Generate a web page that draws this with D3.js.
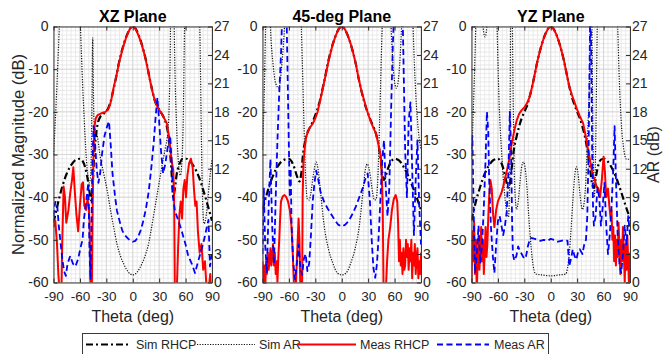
<!DOCTYPE html>
<html>
<head>
<meta charset="utf-8">
<script src="https://cdn.jsdelivr.net/npm/d3@7"></script>
<style>
  body { margin: 0; background: #fff; }
  svg { display: block; font-family: Arial, "Liberation Sans", sans-serif; }
</style>
</head>
<body>
<svg id="chart" width="664" height="354"></svg>
<script>
// panel titles and axis ticks
const planeNames = ['XZ Plane', '45-deg Plane', 'YZ Plane'];
const thetaTicks = [-90, -60, -30, 0, 30, 60, 90];
const dbTicks = [0, -10, -20, -30, -40, -50, -60];
const arTicks = [0, 3, 6, 9, 12, 15, 18, 21, 24, 27];
const legendLabels = ['Sim RHCP', 'Sim AR', 'Meas RHCP', 'Meas AR'];

// [theta (deg), value] - RHCP in dB (left axis), AR in dB (right axis)
const xzSimRhcp = [[-90,-46],[-85,-41.5],[-80,-37.5],[-75,-34.5],[-70,-32.5],[-65,-31.3],[-60,-31],[-57,-31.5],[-54,-33],[-51,-36],[-48.5,-39.5],[-47,-40.8],[-45.5,-37],[-44,-31],[-42,-26],[-40,-23],[-37,-21.2],[-34,-20.6],[-31,-20],[-28,-19.2],[-25,-17.5],[-22,-14.8],[-19,-12],[-16,-8.8],[-13,-6.2],[-10,-4],[-7,-2.2],[-4,-0.8],[-2,-0.2],[0,0],[2,-0.2],[4,-0.8],[7,-2.2],[10,-4],[13,-6.2],[16,-8.8],[19,-12],[22,-14.8],[25,-17.3],[28,-18.8],[31,-19.8],[34,-20.8],[37,-22.2],[40,-25],[42,-28.5],[44,-34],[46,-40],[47.5,-38.5],[50,-34.5],[53,-32.3],[57,-31],[61,-31],[65,-31.6],[70,-33],[75,-35.2],[80,-38.3],[85,-41.8],[90,-45.5]];
const xzSimAr = [[-90,13.5],[-88,17],[-86,21],[-84,25.5],[-82,30],[-80,35],[-75,40],[-68,40],[-63,36],[-61,31],[-59,26],[-57,21],[-55,17],[-53,13.5],[-51,11.3],[-49.5,10.5],[-48,11],[-47,14],[-46.2,20],[-45.5,25.8],[-44.8,21],[-44,17],[-42,16],[-40,15.3],[-37,13.3],[-33,11.5],[-29,9.7],[-25,7.5],[-21,5.5],[-18,4.1],[-14,2.8],[-10,1.9],[-5,1.1],[0,0.8],[5,1.1],[10,1.9],[14,2.8],[18,4.1],[21,5.6],[25,7.8],[29,10],[33,12.2],[37,14.2],[40,16],[41.5,19],[42.5,24],[43.5,32],[45,38],[46.5,30],[48,22],[50,16],[52,12.5],[54,11.3],[56,13],[57.5,18],[58.5,25],[60,33],[63,40],[72,40],[75,33],[76.5,25],[78,15],[79.5,8],[81,6.2],[83,6.8],[85,8.5],[87,10.5],[90,13]];
const xzMeasRhcp = [[-90,-47],[-88,-45.5],[-86,-51],[-84.5,-58],[-83,-62],[-81,-62],[-80,-50],[-78.5,-37.5],[-77,-40],[-75.5,-46],[-73,-43],[-71,-39],[-69,-36],[-67.5,-33],[-66,-38],[-64,-44],[-62,-48],[-60,-42],[-58,-37],[-56.5,-36.5],[-55,-42],[-53,-43],[-51.5,-40.5],[-50,-42],[-49,-46],[-48,-62],[-46.5,-62],[-45.5,-42],[-44.5,-29],[-43.5,-23.5],[-42,-21.5],[-40,-20.8],[-37,-20.5],[-34,-20.2],[-31,-20],[-28,-19.5],[-26,-18.5],[-24,-16.8],[-22,-14.6],[-20,-12.8],[-18,-11],[-15,-8],[-12,-5.6],[-10,-4.2],[-7,-2.3],[-4,-0.9],[-2,-0.2],[0,0],[2,-0.2],[4,-0.9],[7,-2.3],[10,-4.1],[13,-6.3],[16,-9],[19,-12],[22,-15],[25,-17.3],[27.5,-18.6],[30,-19.5],[33,-20.5],[36,-21.6],[38.7,-22.7],[41,-25.5],[43,-29.5],[44.5,-32],[46,-33.5],[47,-40],[47.8,-62],[50,-62],[51.5,-52],[53,-44],[54.5,-41],[56,-45],[57.5,-38],[59,-36],[60.5,-40],[62,-35],[64,-32],[66,-31],[68,-33],[69.5,-38],[71,-42],[72.5,-41],[74,-48],[76,-53],[78,-51],[80,-57],[82,-55],[84,-62],[86,-62],[88,-58],[89,-62],[90,-62]];
const xzMeasAr = [[-90,7],[-88,8.5],[-86,8.4],[-84,6],[-82,4.2],[-80,2.5],[-78,1.2],[-76,0.7],[-74,2],[-71,2.8],[-68,2],[-65,1.7],[-62,2.5],[-59,3.8],[-57,4.5],[-55.5,6.6],[-53,8.5],[-50.5,10.5],[-49,3],[-48,0.3],[-47,5],[-46,12],[-44.5,16.5],[-43,15],[-41,12],[-39,10.5],[-37,11.5],[-35,13.5],[-32,15.5],[-29,16.5],[-27,17],[-25,14.5],[-23,11.5],[-20,9],[-18,7.6],[-15,6.5],[-12,5.5],[-9,5],[-5,4.6],[-2,4.4],[0,4.3],[3,4.4],[6,4.8],[9,5.5],[12,6.5],[15,7.8],[18,9.5],[21,12],[24,15],[26,17.5],[28,19.5],[30,17],[32,14],[34.5,11.5],[37,12.5],[40,14.5],[42.5,15.5],[44,13],[46,8.8],[48,7.5],[50,7],[53,6.2],[56,5.3],[60,4],[63,2.8],[67,2],[70.7,1],[73,1.8],[76,2.8],[79,3.8],[82,4.9],[84,5.8],[86,6.6],[87.7,1.7],[90,3]];

const d45SimRhcp = [[-90,-43],[-85,-39.2],[-80,-36],[-75,-33.6],[-70,-32],[-65,-31.2],[-60,-31],[-57,-31.6],[-54,-33],[-51,-35],[-48,-36.3],[-46,-34.5],[-44,-30],[-42,-27.3],[-40,-25.5],[-37,-24],[-34,-22.8],[-31,-21.3],[-28,-19.6],[-25,-17.5],[-22,-14.8],[-19,-12],[-16,-8.8],[-13,-6.2],[-10,-4],[-7,-2.2],[-4,-0.8],[-2,-0.2],[0,0],[2,-0.2],[4,-0.8],[7,-2.2],[10,-4],[13,-6.2],[16,-8.8],[19,-12],[22,-14.8],[25,-17.3],[28,-19.3],[31,-21],[34,-22.6],[37,-24],[40,-26],[42,-28],[44,-31],[46,-34.3],[48,-36],[50,-35],[53,-33],[57,-31.4],[60,-31],[65,-31.4],[70,-32.8],[75,-34.8],[80,-37.3],[85,-40],[90,-43]];
const d45SimAr = [[-90,14],[-88,20],[-86.5,27],[-85,33],[-83,33],[-81,27],[-78,23],[-75,21],[-71.5,20.5],[-68,23],[-65,27],[-62,33],[-58,38],[-50,38],[-47,30],[-45,24],[-43,17],[-41,11],[-39,8.8],[-37,8.7],[-35,9.5],[-32,11.5],[-29,12.7],[-27,12],[-24,9.5],[-20,6],[-15,3.5],[-10,2],[-5,1],[0,0.8],[5,1],[10,2],[15,3.5],[20,6],[24,9.5],[27,12],[29,12.5],[32,11.5],[35,9.5],[37,8.7],[39,8.8],[41,11],[43,17],[45,24],[47,30],[50,38],[53,34],[56,27],[59,22],[62,20.5],[65,22],[68,27],[71,34],[74,38],[77,38],[79,34],[81,27],[84,20],[87,16],[90,14]];
const d45MeasRhcp = [[-90,-55],[-89,-60],[-88,-56],[-87,-62],[-86,-55],[-85,-58],[-84,-53],[-83,-57],[-82,-55],[-81,-52],[-80,-56],[-79,-54],[-78,-51],[-77,-56],[-76,-53],[-75,-58],[-74,-55],[-73,-60],[-72,-54],[-71,-50],[-70,-45],[-69,-41],[-67,-39.8],[-65,-39.5],[-63,-40],[-61,-41],[-59,-43],[-57,-47],[-55.5,-54],[-54,-62],[-52,-60],[-50,-50],[-49,-45],[-48,-50],[-47,-62],[-45,-62],[-44.4,-40],[-43.5,-32],[-42,-28.5],[-40.5,-26],[-39,-25],[-36.8,-23.9],[-33,-22.8],[-30,-21.5],[-27.4,-20],[-25,-17.8],[-22,-15],[-20,-13],[-17.9,-11],[-15,-8.1],[-12,-5.6],[-10.4,-4.3],[-7,-2.2],[-4,-0.8],[-2,-0.2],[0,0],[2,-0.2],[4,-0.8],[7,-2.2],[10,-4],[13,-6.2],[16,-8.8],[19,-12],[22,-14.8],[25,-17],[27.4,-18.8],[30,-20.5],[33,-22.3],[36,-23.8],[38.7,-25],[41,-27],[43,-29],[44.4,-30.5],[45.5,-35],[46.5,-42],[47.5,-62],[50,-62],[51.5,-55],[53,-50],[55,-47],[57,-43],[59,-40.5],[61.3,-39.5],[63,-41],[64,-46],[65,-55],[66,-50],[67,-56],[68,-53],[69,-58],[70,-52],[71,-57],[72,-56],[73,-50],[74,-54],[75,-51],[76,-57],[77,-52],[78,-55],[79,-50],[80,-59],[81,-53],[82,-56],[83,-51],[84,-58],[85,-54],[86,-52],[87,-59],[88,-55],[89,-58],[90,-53]];
const d45MeasAr = [[-90,3],[-88.5,10],[-87,4],[-85,1],[-83,8],[-81,13],[-79,6],[-77,2],[-75,9],[-73,15],[-71,20],[-69,24],[-67,30],[-65,34],[-63,30],[-61.5,22],[-60,14],[-59,9],[-58,12],[-57,6],[-55,2],[-53,0.3],[-51,2],[-49,4],[-47,1.5],[-45,0.8],[-43,2.5],[-41,3],[-39,1.2],[-37,2],[-35,5],[-33,8.5],[-31,10.5],[-29,11.8],[-27,11],[-24,9.5],[-20,8.5],[-16,7.8],[-12,7.2],[-8,6.6],[-4,6.1],[0,5.9],[4,6.1],[8,6.5],[12,7.2],[16,8],[20,9],[24,10],[27,11],[29.5,11.5],[32,8.5],[34,4.5],[36,1.5],[38,0.5],[40,2],[42,5],[44,9],[46,13],[48,15],[50,10],[52,7],[54,10],[56,18],[58,25],[60,30],[62,33],[64,28],[66,32],[68,34],[70,24],[72,14],[74,9],[76,17],[78,19],[80,12],[82,5],[84,11],[86,15],[88,8],[90,4]];

const yzSimRhcp = [[-90,-45.5],[-85,-41],[-80,-37.5],[-75,-34.5],[-70,-32.5],[-65,-31.3],[-60,-31],[-57,-31.6],[-54,-33.2],[-51,-35.8],[-48.5,-37.8],[-46.5,-37],[-44.5,-33.5],[-42,-29],[-39,-26],[-36,-23.5],[-33,-21.5],[-30,-20],[-27,-18.6],[-24,-16.5],[-21,-14],[-18,-11],[-15,-8],[-12,-5.5],[-9,-3.4],[-6,-1.7],[-3,-0.5],[0,0],[3,-0.5],[6,-1.7],[9,-3.4],[12,-5.5],[15,-8],[18,-11],[21,-14],[24,-16.5],[27,-18.4],[30,-20],[33,-21.5],[36,-23.5],[39,-26],[42,-29.5],[45,-34],[47,-37],[49,-37.8],[51.5,-35],[54,-32.5],[57,-31.2],[61,-31],[65,-31.7],[70,-33.4],[75,-35.8],[80,-38.8],[85,-42],[90,-45]];
const yzSimAr = [[-90,13],[-88,18],[-86,24],[-84,31],[-82,34],[-80,31],[-77.5,27.5],[-74.5,25.9],[-72,27.5],[-69,32],[-66,36],[-63,33],[-61,27],[-59,20],[-56,14],[-53,10],[-50,7.5],[-48,6.9],[-46.5,12],[-45.5,30],[-44.5,35],[-43,22],[-41.5,12],[-40,8.5],[-38.7,7.7],[-37,8.5],[-35,10.5],[-33,12.2],[-31,12.7],[-29,12],[-27,10],[-25,7],[-23,4.5],[-21,2.5],[-19,1.3],[-17,0.9],[-10,0.8],[0,0.7],[10,0.8],[17,0.9],[19,1.5],[21,3],[23,5.5],[25,8.5],[27,11],[29,12.2],[31,11.5],[33,9.5],[36,7.7],[38,8.5],[40,11],[42,16],[44,22],[45,30],[46,36],[47,25],[48,15],[49.5,9],[51,14],[52.5,25],[54,33],[57,38],[70,38],[74,33],[76,27],[78,21],[80,17],[83,14],[86,13],[90,13]];
const yzMeasRhcp = [[-90,-60],[-89,-48],[-88,-55],[-87,-46],[-86,-58],[-85,-50],[-84,-62],[-83,-55],[-82,-49],[-81,-57],[-80,-52],[-79,-47],[-78,-55],[-77,-50],[-76,-58],[-75,-53],[-74,-47],[-73,-54],[-72,-51],[-71,-45],[-70,-40],[-68.5,-36],[-67,-38],[-65.5,-44],[-64,-47],[-62,-43],[-60,-41],[-58,-40],[-56,-39],[-54,-37.5],[-52.5,-36],[-50,-34],[-47,-31],[-44.3,-27.4],[-41,-24],[-38.6,-22],[-36,-20.5],[-33,-19.6],[-30,-19],[-27,-18],[-24,-16.5],[-21,-14],[-18,-11],[-15,-8],[-12,-5.5],[-9,-3.4],[-6,-1.7],[-3,-0.5],[0,0],[3,-0.5],[6,-1.7],[9,-3.4],[12,-5.5],[15,-8],[18,-11],[21,-14],[24,-16],[27.4,-18],[30,-19.5],[33,-21],[36.8,-22.7],[40,-26],[42.5,-29],[46,-33],[48,-35],[50,-36],[52,-37.5],[54,-38],[56,-40],[58,-36],[60,-30.5],[61.5,-34],[63,-40],[65,-38],[66.5,-42],[68,-45],[69,-43],[70,-50],[71,-47],[72,-55],[73,-49],[74,-56],[75,-50],[76,-54],[77,-46],[78,-52],[79,-58],[80,-50],[81,-55],[82,-47],[83,-53],[84,-60],[85,-51],[86,-57],[87,-49],[88,-55],[89,-62],[90,-53]];
const yzMeasAr = [[-90,14],[-89,15.5],[-88,10],[-87,5],[-86,1],[-84,3],[-82,6],[-80,2],[-78,4],[-76,8],[-74,13],[-72.5,18],[-71,16],[-70,11],[-68,6],[-66,3],[-64,1],[-62,4],[-60,6.5],[-58,7],[-56,6],[-54,5],[-52,6],[-50,7.5],[-48,12],[-46.5,18],[-45,14],[-44,7],[-43,3],[-41.4,2.3],[-39,2.8],[-37,3.8],[-35.7,3.5],[-33,3],[-30,2.5],[-28,2.8],[-26,3.8],[-24,4.5],[-22.5,4.7],[-18,4.6],[-12,4.4],[-8,4.5],[-4,4.4],[0,4.6],[4,4.5],[8,4.3],[12,4.4],[16,4.5],[19,4.4],[20.5,2.5],[21,1.7],[23,2.5],[25,3.5],[27,2.8],[29,2.4],[31,3.2],[33,3.5],[36,3],[38,4],[40,4.5],[41.5,7],[43,14],[44,22],[45,30],[46,24],[47,14],[48,8],[49,6],[51,7],[53,10],[55,9],[57,6],[59,8],[61,10.5],[63,6],[65,3],[67,5],[69,8],[71,12],[72.5,16.5],[74,11],[76,5],[78,2],[80,1],[82,3],[84,6],[86,4],[88,7],[90,5]];

const panelSeries = [
  { simRhcp: xzSimRhcp, simAr: xzSimAr, measRhcp: xzMeasRhcp, measAr: xzMeasAr },
  { simRhcp: d45SimRhcp, simAr: d45SimAr, measRhcp: d45MeasRhcp, measAr: d45MeasAr },
  { simRhcp: yzSimRhcp, simAr: yzSimAr, measRhcp: yzMeasRhcp, measAr: yzMeasAr }
];

// layout
const plotTop = 26.5, plotH = 256, plotW = 158.5;
const lefts = [53.5, 262.5, 471.5];
const axisColor = '#262626';
const fontFamily = 'Arial, "Liberation Sans", sans-serif';

const styles = {
  simRhcp: { stroke: '#000', width: 2.2, dash: '7,3,2,3' },
  simAr: { stroke: '#111', width: 1.2, dash: '1.2,1.4' },
  measRhcp: { stroke: '#ff0000', width: 2, dash: null },
  measAr: { stroke: '#0000ff', width: 1.8, dash: '6,3.5' }
};

const svg = d3.select('#chart');

const y = d3.scaleLinear().domain([-60, 0]).range([plotTop + plotH, plotTop]);
const yAr = d3.scaleLinear().domain([0, 27]).range([plotTop + plotH, plotTop]);
const fmt = d => String(d);

planeNames.forEach((name, i) => {
  const x0 = lefts[i], x1 = x0 + plotW;
  const x = d3.scaleLinear().domain([-90, 90]).range([x0, x1]);
  const g = svg.append('g');

  // minor grid
  const grid = g.append('g');
  grid.selectAll('line.mx').data(d3.range(-90, 91, 5)).join('line')
    .attr('x1', d => x(d)).attr('x2', d => x(d))
    .attr('y1', plotTop).attr('y2', plotTop + plotH)
    .attr('stroke', '#e4e4e4').attr('stroke-width', 0.8);
  grid.selectAll('line.my').data(d3.range(-60, 1, 1)).join('line')
    .attr('x1', x0).attr('x2', x1)
    .attr('y1', d => y(d)).attr('y2', d => y(d))
    .attr('stroke', '#e4e4e4').attr('stroke-width', 0.8);
  // major grid
  grid.selectAll('line.gx').data(thetaTicks).join('line')
    .attr('x1', d => x(d)).attr('x2', d => x(d))
    .attr('y1', plotTop).attr('y2', plotTop + plotH)
    .attr('stroke', '#d2d2d2').attr('stroke-width', 0.8);
  grid.selectAll('line.gy').data(dbTicks).join('line')
    .attr('x1', x0).attr('x2', x1)
    .attr('y1', d => y(d)).attr('y2', d => y(d))
    .attr('stroke', '#d2d2d2').attr('stroke-width', 0.8);

  // clip
  const clipId = 'clip' + i;
  svg.append('clipPath').attr('id', clipId)
    .append('rect').attr('x', x0).attr('y', plotTop).attr('width', plotW).attr('height', plotH);

  const plot = g.append('g').attr('clip-path', 'url(#' + clipId + ')');
  const s = panelSeries[i];
  const lineDb = (curve) => d3.line().x(d => x(d[0])).y(d => y(d[1])).curve(curve);
  const lineAr = (curve) => d3.line().x(d => x(d[0])).y(d => yAr(d[1])).curve(curve);

  const draw = (data, gen, st) => {
    const p = plot.append('path').datum(data)
      .attr('d', gen)
      .attr('fill', 'none')
      .attr('stroke', st.stroke)
      .attr('stroke-width', st.width)
      .attr('stroke-linejoin', 'round');
    if (st.dash) p.attr('stroke-dasharray', st.dash);
  };

  draw(s.simRhcp, lineDb(d3.curveMonotoneX), styles.simRhcp);
  draw(s.simAr, lineAr(d3.curveMonotoneX), styles.simAr);
  draw(s.measRhcp, lineDb(d3.curveLinear), styles.measRhcp);
  draw(s.measAr, lineAr(d3.curveLinear), styles.measAr);

  // axes (inward ticks like the original)
  const axes = g.append('g');
  const addAxis = (axis, tf, size) => {
    const a = axes.append('g').attr('transform', tf).call(axis);
    a.attr('font-size', size).attr('font-family', fontFamily).style('color', axisColor);
    a.select('.domain').attr('stroke', '#3a3a3a');
    a.selectAll('text').attr('fill', axisColor);
    return a;
  };
  addAxis(d3.axisBottom(x).tickValues(thetaTicks).tickFormat(fmt).tickSizeInner(-4).tickSizeOuter(0).tickPadding(9),
    `translate(0,${plotTop + plotH})`, 13.5);
  addAxis(d3.axisTop(x).tickValues(thetaTicks).tickSizeInner(-4).tickSizeOuter(0).tickFormat(''),
    `translate(0,${plotTop})`, 13.5);
  addAxis(d3.axisLeft(y).tickValues(dbTicks).tickFormat(fmt).tickSizeInner(-4).tickSizeOuter(0).tickPadding(5),
    `translate(${x0},0)`, 14);
  addAxis(d3.axisRight(yAr).tickValues(arTicks).tickFormat(fmt).tickSizeInner(-4).tickSizeOuter(0).tickPadding(2),
    `translate(${x1},0)`, 14);

  // title
  g.append('text')
    .attr('x', (x0 + x1) / 2).attr('y', 21.5)
    .attr('text-anchor', 'middle')
    .attr('font-size', 16).attr('font-weight', 'bold')
    .attr('fill', '#000')
    .text(name);

  // x label
  g.append('text')
    .attr('x', (x0 + x1) / 2).attr('y', 322)
    .attr('text-anchor', 'middle')
    .attr('font-size', 16)
    .attr('fill', axisColor)
    .text('Theta (deg)');
});

// y labels
svg.append('text')
  .attr('transform', `translate(23.5,${plotTop + plotH / 2}) rotate(-90)`)
  .attr('text-anchor', 'middle')
  .attr('font-size', 16.5)
  .attr('fill', axisColor)
  .text('Normalized Magnitude (dB)');

svg.append('text')
  .attr('transform', `translate(659,${plotTop + plotH / 2}) rotate(-90)`)
  .attr('text-anchor', 'middle')
  .attr('font-size', 16)
  .attr('fill', axisColor)
  .text('AR (dB)');

// legend
const legend = svg.append('g');
legend.append('rect')
  .attr('x', 82.5).attr('y', 333.5).attr('width', 466).attr('height', 24)
  .attr('fill', '#fff').attr('stroke', '#3a3a3a').attr('stroke-width', 1);

const legendItems = [
  { key: 'simRhcp', lx: [86, 131], tx: 136 },
  { key: 'simAr', lx: [197, 255], tx: 259 },
  { key: 'measRhcp', lx: [297, 356], tx: 360 },
  { key: 'measAr', lx: [437, 489], tx: 494 }
];
legendItems.forEach((it, k) => {
  const st = styles[it.key];
  const l = legend.append('line')
    .attr('x1', it.lx[0]).attr('x2', it.lx[1])
    .attr('y1', 344.5).attr('y2', 344.5)
    .attr('stroke', st.stroke).attr('stroke-width', st.width);
  if (st.dash) l.attr('stroke-dasharray', st.dash);
  legend.append('text')
    .attr('x', it.tx).attr('y', 349)
    .attr('font-size', 12.5)
    .attr('fill', axisColor)
    .text(legendLabels[k]);
});
</script>
</body>
</html>
